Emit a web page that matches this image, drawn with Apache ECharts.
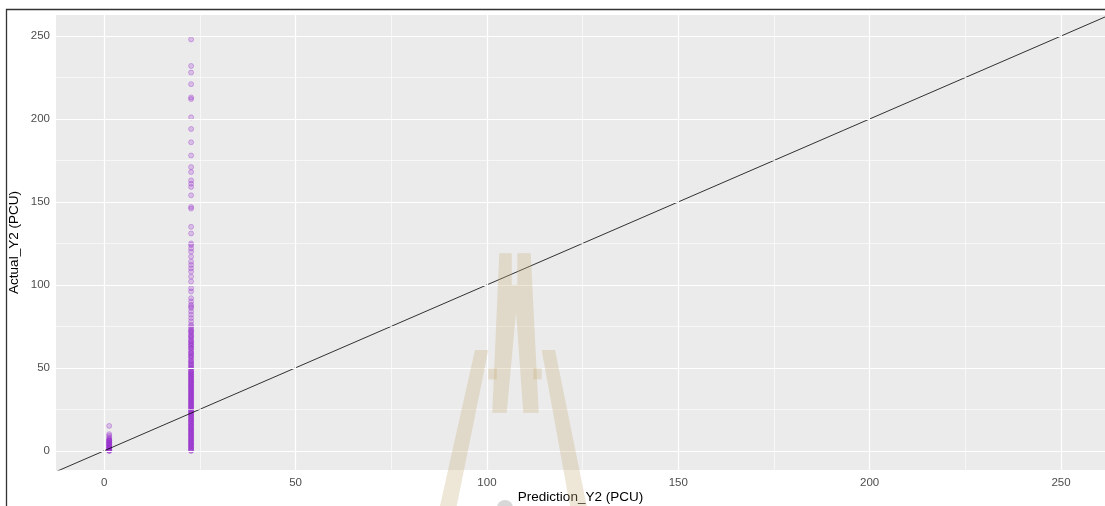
<!DOCTYPE html>
<html>
<head>
<meta charset="utf-8">
<style>
  html, body { margin: 0; padding: 0; background: #ffffff; }
  #chart { width: 1105px; height: 506px; }
</style>
<script src="https://cdn.jsdelivr.net/npm/echarts@6/dist/echarts.min.js"></script>
</head>
<body>
<div id="chart"></div>
<script>
// ---------------- DATA ----------------
var xTicks = [0, 50, 100, 150, 200, 250];
var xMinor = [25, 75, 125, 175, 225];
var yTicks = [0, 50, 100, 150, 200, 250];
var yMinor = [25, 75, 125, 175, 225];

var predLow = 1.3;    // Prediction_Y2 of first cluster
var predHigh = 22.7;  // Prediction_Y2 of second cluster

var actualLow = [0, 0, 0, 1, 1, 1, 2, 2, 2, 3, 3, 3, 4, 4, 4, 5, 5, 5, 6, 6, 6, 7, 7, 8, 9, 10, 15];

var actualHighDense = [0, 1, 2, 3, 4, 5, 6, 7, 8, 9, 10, 11, 12, 13, 14, 15, 16, 17, 18, 19,
  20, 21, 22, 23, 24, 25, 26, 27, 28, 29, 30, 31, 32, 33, 34, 35, 36, 37, 38, 39,
  40, 41, 42, 43, 44, 45, 46, 47, 48, 49, 50, 51, 52, 53, 54, 55, 56, 57, 58, 59,
  60, 61, 62, 63, 64, 65, 66, 67, 68, 69, 70, 71, 72, 73, 74, 75];
var actualHighRepeat = [0, 1, 2, 3, 4, 5, 6, 7, 8, 9, 10, 11, 12, 13, 14, 15, 16, 17, 18, 19,
  20, 21, 22, 23, 24, 25, 26, 27, 28, 29, 30, 31, 32, 33, 34, 35, 36, 37, 38, 39,
  40, 41, 42, 43, 44, 45, 46, 47, 48, 50, 52, 54, 57, 59, 62, 64, 66, 69, 72];
var actualHighSparse = [248, 232, 228, 221, 213, 212, 201, 194, 186, 178, 171, 168, 163, 161,
  159, 154, 147, 146, 135, 131, 125, 124, 122, 120, 117, 114, 112, 110, 108, 105, 102,
  98, 96, 92, 90, 88, 87, 86, 84, 82, 80, 78, 76];

var refLine = [[-20, -20], [280, 280]];  // y = x

// ---------------- BUILD ----------------
var pts = [];
actualLow.forEach(function (v) { pts.push([predLow, v]); });
actualHighDense.forEach(function (v) { pts.push([predHigh, v]); });
actualHighRepeat.forEach(function (v) { pts.push([predHigh, v]); });
actualHighSparse.forEach(function (v) { pts.push([predHigh, v]); });

function vLines(arr) { return arr.map(function (v) { return { xAxis: v }; }); }
function hLines(arr) { return arr.map(function (v) { return { yAxis: v }; }); }

var tan = 'rgba(200,172,120,0.30)';
var chart = echarts.init(document.getElementById('chart'), null, { renderer: 'canvas' });

var option = {
  animation: false,
  backgroundColor: '#ffffff',
  grid: {
    left: 56, top: 15, right: 0, bottom: 36,
    containLabel: false, outerBoundsMode: 'none',
    show: true, backgroundColor: '#EBEBEB', borderWidth: 0
  },
  xAxis: {
    type: 'value', min: -12.6, max: 261.5,
    name: 'Prediction_Y2 (PCU)', nameLocation: 'middle', nameGap: 20, nameMoveOverlap: false,
    nameTextStyle: { color: '#000000', fontSize: 13.5, fontFamily: 'Liberation Sans, Arial, sans-serif' },
    axisLine: { show: false },
    axisTick: { show: true, length: 3, customValues: xTicks, lineStyle: { color: '#333333', width: 1 } },
    axisLabel: { customValues: xTicks, color: '#4D4D4D', fontSize: 11.5, margin: 7,
      fontFamily: 'Liberation Sans, Arial, sans-serif' },
    splitLine: { show: false }
  },
  yAxis: {
    type: 'value', min: -11.6, max: 262.7,
    name: 'Actual_Y2 (PCU)', nameLocation: 'middle', nameGap: 35, nameRotate: 90, nameMoveOverlap: false,
    nameTextStyle: { color: '#000000', fontSize: 13.5, fontFamily: 'Liberation Sans, Arial, sans-serif' },
    axisLine: { show: false },
    axisTick: { show: true, length: 3, customValues: yTicks, lineStyle: { color: '#333333', width: 1 } },
    axisLabel: { customValues: yTicks, color: '#4D4D4D', fontSize: 11.5, margin: 6,
      fontFamily: 'Liberation Sans, Arial, sans-serif' },
    splitLine: { show: false }
  },
  series: [
    {
      type: 'line', data: [], z: 1, silent: true,
      markLine: {
        silent: true, symbol: 'none', animation: false, label: { show: false },
        lineStyle: { color: '#FFFFFF', width: 0.6, type: 'solid' },
        data: vLines(xMinor).concat(hLines(yMinor))
      }
    },
    {
      type: 'line', data: [], z: 1, silent: true,
      markLine: {
        silent: true, symbol: 'none', animation: false, label: { show: false },
        lineStyle: { color: '#FFFFFF', width: 1.2, type: 'solid' },
        data: vLines(xTicks).concat(hLines(yTicks))
      }
    },
    {
      type: 'scatter', data: pts, z: 3, symbol: 'circle', symbolSize: 5,
      itemStyle: { color: 'rgba(153,50,204,0.3)', borderColor: 'rgba(153,50,204,0.42)', borderWidth: 1 }
    },
    {
      type: 'line', data: refLine, z: 4, symbol: 'none', clip: true,
      lineStyle: { color: '#000000', width: 0.8 }
    }
  ],
  graphic: [
    { type: 'rect', z: 100, silent: true,
      shape: { x: 6.5, y: 9.5, width: 1110, height: 510 },
      style: { fill: 'none', stroke: '#333333', lineWidth: 1.3 } },
    // watermark (decorative)
    { type: 'polygon', z: 90, silent: true,
      shape: { points: [[499.3,253.3],[511.7,253.3],[511.7,285],[517.3,285],[517.3,253.3],[530.7,253.3],
        [538.7,412.7],[523.3,412.7],[516,311.7],[506.7,412.7],[492.3,412.7]] },
      style: { fill: tan } },
    { type: 'polygon', z: 90, silent: true,
      shape: { points: [[475,350],[488.3,350],[456.7,506],[440,506]] }, style: { fill: tan } },
    { type: 'polygon', z: 90, silent: true,
      shape: { points: [[541.7,350],[555,350],[586.7,506],[570,506]] }, style: { fill: tan } },
    { type: 'rect', z: 90, silent: true,
      shape: { x: 488.3, y: 368.3, width: 8.5, height: 11 }, style: { fill: tan } },
    { type: 'rect', z: 90, silent: true,
      shape: { x: 533.5, y: 368.3, width: 8.2, height: 11 }, style: { fill: tan } },
    { type: 'circle', z: 89, silent: true,
      shape: { cx: 505, cy: 508, r: 8 }, style: { fill: 'rgba(205,205,205,0.8)' } }
  ]
};
chart.setOption(option);
</script>
</body>
</html>
